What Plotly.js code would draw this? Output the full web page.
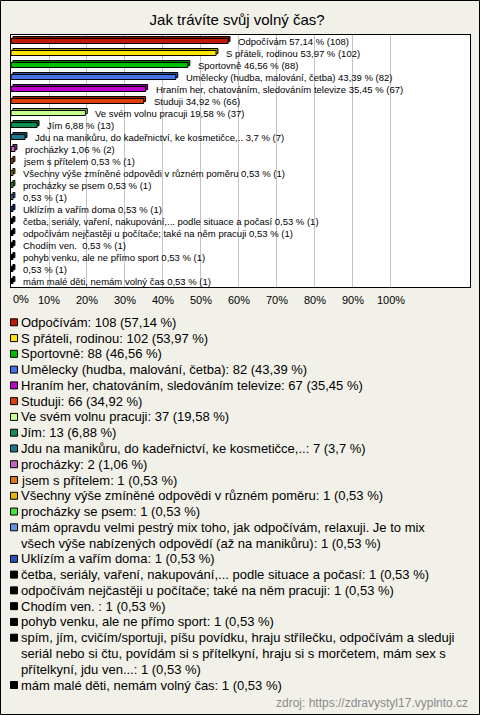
<!DOCTYPE html>
<html>
<head>
<meta charset="utf-8">
<script src="https://cdn.plot.ly/plotly-3.0.1.min.js"></script>
<style>
html,body{margin:0;padding:0;background:#F2F1E9;}
#chart{width:480px;height:715px;}
</style>
</head>
<body>
<div id="chart"></div>
<script>
// ---------- data ----------
const categories = [
  "Odpočívám",
  "S přáteli, rodinou",
  "Sportovně",
  "Umělecky (hudba, malování, četba)",
  "Hraním her, chatováním, sledováním televize",
  "Studuji",
  "Ve svém volnu pracuji",
  "Jím",
  "Jdu na manikůru, do kadeřnictví, ke kosmetičce,..",
  "procházky",
  "jsem s přítelem",
  "Všechny výše zmíněné odpovědi v různém poměru",
  "procházky se psem",
  "mám opravdu velmi pestrý mix toho, jak odpočívám, relaxuji. Je to mix všech výše nabízených odpovědí (až na manikůru)",
  "Uklízím a vařím doma",
  "četba, seriály, vaření, nakupování,... podle situace a počasí",
  "odpočívám nejčastěji u počítače; také na něm pracuji",
  "Chodím ven. ",
  "pohyb venku, ale ne přímo sport",
  "spím, jím, cvičím/sportuji, píšu povídku, hraju střílečku, odpočívám a sleduji seriál nebo si čtu, povídám si s přítelkyní, hraju si s morčetem, mám sex s přítelkyní, jdu ven...",
  "mám malé děti, nemám volný čas"
];
// labels shown next to the bars (two long answers are shown without text)
const chartLabels = categories.map(c => c.length > 100 ? "" : c);
const counts = [108, 102, 88, 82, 67, 66, 37, 13, 7, 2, 1, 1, 1, 1, 1, 1, 1, 1, 1, 1, 1];
const percents = [57.14, 53.97, 46.56, 43.39, 35.45, 34.92, 19.58, 6.88, 3.7, 1.06, 0.53, 0.53, 0.53, 0.53, 0.53, 0.53, 0.53, 0.53, 0.53, 0.53, 0.53];
const colors = ["#BF1A08", "#FFE600", "#00BF00", "#4472E8", "#BE00CC", "#E23C08", "#C6FF8E", "#0E9052",
  "#1E7890", "#C064C4", "#E27414", "#E2B40A", "#44E23C", "#6494E6", "#2452C2",
  "#000000", "#000000", "#000000", "#000000", "#000000", "#000000"];
const tickVals = [10, 20, 30, 40, 50, 60, 70, 80, 90, 100];
const tickText = tickVals.map(v => v + "%");
const title = "Jak trávíte svůj volný čas?";
const source = "zdroj: https://zdravystyl17.vyplnto.cz";

// ---------- helpers ----------
const W = 480, H = 715;
const FONT = "Liberation Sans, Arial, sans-serif";
const fx = x => x / W;
const fy = y => 1 - y / H;
const fmt = v => String(v).replace(".", ",");
const idx = categories.map((c, i) => i);

function darken(hex, f) {
  const n = parseInt(hex.slice(1), 16);
  const r = Math.round(((n >> 16) & 255) * f), g = Math.round(((n >> 8) & 255) * f), b = Math.round((n & 255) * f);
  return "rgb(" + r + "," + g + "," + b + ")";
}

const barText = idx.map(i => (chartLabels[i] ? chartLabels[i] + " " : "") + fmt(percents[i]) + " % (" + counts[i] + ")");
const legendText = idx.map(i => categories[i] + ": " + counts[i] + " (" + fmt(percents[i]) + " %)");

// word wrap legend entries by measured width
const cv = document.createElement("canvas").getContext("2d");
cv.font = "13px 'Liberation Sans'";
function wrap(t, maxW) {
  const words = t.split(" ");
  const lines = [];
  let cur = "";
  for (const w of words) {
    const test = cur ? cur + " " + w : w;
    if (cur && cv.measureText(test).width > maxW) { lines.push(cur); cur = w; }
    else cur = test;
  }
  if (cur) lines.push(cur);
  return lines;
}

const annotations = [];
const shapes = [];

// bar labels
idx.forEach(i => {
  annotations.push({
    x: percents[i], y: i, xref: "x", yref: "y", text: barText[i],
    showarrow: false, xanchor: "left", yanchor: "middle", xshift: 8,
    font: {family: FONT, size: 9.5, color: "#000"}
  });
});

// 0% tick label (left aligned like the original)
annotations.push({
  x: fx(11), y: fy(299), xref: "paper", yref: "paper", text: "0%",
  showarrow: false, xanchor: "left", yanchor: "middle",
  font: {family: FONT, size: 11, color: "#000"}
});

// legend
let line = 0;
const L0 = 322.3, LH = 15.77;
idx.forEach(i => {
  const lines = wrap(legendText[i], 440);
  const yc = L0 + line * LH;
  shapes.push({
    type: "rect", xref: "paper", yref: "paper",
    x0: fx(10.5), x1: fx(17.5), y0: fy(yc + 3.5), y1: fy(yc - 3.5),
    fillcolor: colors[i], line: {color: "#000", width: 1}
  });
  lines.forEach((t, k) => {
    annotations.push({
      x: fx(19), y: fy(yc + k * LH), xref: "paper", yref: "paper", text: t,
      showarrow: false, xanchor: "left", yanchor: "middle",
      font: {family: FONT, size: 13, color: "#000"}
    });
  });
  line += lines.length;
});

// source
annotations.push({
  x: fx(470), y: fy(703), xref: "paper", yref: "paper", text: source,
  showarrow: false, xanchor: "right", yanchor: "middle",
  font: {family: FONT, size: 12, color: "#8a8a8a"}
});

// outer frame
shapes.push({
  type: "rect", xref: "paper", yref: "paper", layer: "above",
  x0: fx(0.5), x1: fx(479.5), y0: fy(714.5), y1: fy(0.5),
  line: {color: "#000", width: 1}
});

// 3D depth of the bars: back face shifted up/right by ~2 px
const depthX = 0.5;          // in % units (~2 px)
const barW = 0.42;
const backTrace = {
  type: "bar", orientation: "h",
  x: percents, y: idx, base: depthX,
  width: barW, offset: -barW / 2 - 0.16,
  marker: {color: colors.map(c => darken(c, 0.7)), line: {color: "#000", width: 1}},
  hoverinfo: "none"
};
const trace = {
  type: "bar", orientation: "h",
  x: percents, y: idx,
  width: barW,
  marker: {color: colors, line: {color: "#000", width: 1}},
  hoverinfo: "none"
};

const layout = {
  width: W, height: H,
  margin: {l: 0, r: 0, t: 0, b: 0, pad: 0},
  paper_bgcolor: "#F2F1E9",
  plot_bgcolor: "#FFFFFF",
  showlegend: false,
  barmode: "overlay",
  title: {text: title, x: 0.494, xanchor: "center", y: fy(20), yanchor: "middle",
          font: {family: FONT, size: 15, color: "#000"}},
  xaxis: {
    domain: [fx(11), fx(470)], range: [0, 120.8],
    tickvals: tickVals, ticktext: tickText, ticks: "",
    ticklabelstandoff: 3,
    showgrid: true, gridcolor: "#C4C4C4", gridwidth: 1,
    zeroline: false, showline: true, mirror: true, linecolor: "#000", linewidth: 1,
    tickfont: {family: FONT, size: 11, color: "#000"}, fixedrange: true
  },
  yaxis: {
    domain: [fy(287), fy(35)], range: [20.5, -0.5],
    showticklabels: false, ticks: "", showgrid: false, zeroline: false,
    showline: true, mirror: true, linecolor: "#000", linewidth: 1, fixedrange: true
  },
  annotations: annotations,
  shapes: shapes
};

Plotly.newPlot("chart", [backTrace, trace], layout, {staticPlot: true, displayModeBar: false});
</script>
</body>
</html>
